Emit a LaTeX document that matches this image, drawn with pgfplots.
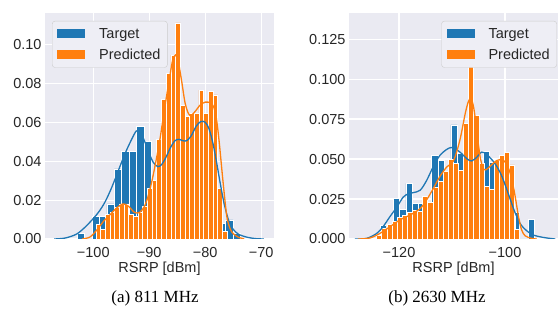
\documentclass[border=0pt]{standalone}
\usepackage{pgfplots}
\pgfplotsset{compat=1.18}
\usepackage{fontspec}
\setmainfont{Liberation Sans}
\newfontfamily\capfont{Liberation Serif}
\definecolor{sbg}{HTML}{EAEAF2}
\definecolor{sblue}{HTML}{1F77B4}
\definecolor{sorange}{HTML}{FF7F0E}
\definecolor{stext}{HTML}{262626}
\definecolor{legbg}{HTML}{EEEEF5}
\definecolor{legedge}{HTML}{CCCCCC}
\newcommand{\fs}{\fontsize{14.5bp}{16bp}\selectfont}
\pgfplotsset{
  sb/.style={
    scale only axis,
    height=226bp,
    anchor=south west,
    axis background/.style={fill=sbg},
    axis line style={draw=none},
    major tick length=0pt,
    grid=major,
    major grid style={white, line width=1.1bp},
    ymin=0,
    tick label style={font=\fs, text=stext},
    xticklabel style={yshift=-5bp},
    label style={font=\fs, text=stext},
    xlabel style={yshift=3bp},
    xlabel={RSRP [dBm]},
    legend cell align=left,
    legend style={font=\fs, text=stext, fill=legbg, draw=legedge, rounded corners=3bp,
      inner xsep=5bp, inner ysep=5bp, row sep=5bp},
  },
  bluebar/.style={ybar interval, fill=sblue, draw=white, line width=0.8bp, forget plot},
  orangebar/.style={ybar interval, fill=sorange, draw=white, line width=0.8bp, forget plot},
  bluekde/.style={sblue, line width=1.3bp, smooth, no markers, forget plot},
  orangekde/.style={sorange, line width=1.3bp, smooth, no markers, forget plot},
  bluelegend/.style={legend image code/.code={\fill[sblue, draw=none, sharp corners] (0bp,-4.6bp) rectangle (28bp,4.6bp); \path[draw=none, fill=none] (40bp,0bp);}},
  orangelegend/.style={legend image code/.code={\fill[sorange, draw=none, sharp corners] (0bp,-4.6bp) rectangle (28bp,4.6bp); \path[draw=none, fill=none] (40bp,0bp);}},
}
\begin{document}
\begin{tikzpicture}
\path[use as bounding box] (0,0) rectangle (559bp,322bp);

% ---------------- (a) 811 MHz ----------------
\begin{axis}[sb, at={(45bp,83bp)}, width=229bp,
  xmin=-108.63, xmax=-67.7, ymax=0.1161,
  xtick={-100,-90,-80,-70}, xticklabels={−100,−90,−80,−70},
  ytick={0,0.02,0.04,0.06,0.08,0.10}, yticklabels={0.00,0.02,0.04,0.06,0.08,0.10},
  legend style={at={(0.0306,0.965)}, anchor=north west}]
\addlegendimage{bluelegend}
\addlegendentry{Target}
\addlegendimage{orangelegend}
\addlegendentry{Predicted}
\addplot[bluebar] coordinates {
(-102.85,0.003) (-101.525,0) (-100.2,0.0115) (-98.875,0.0115) (-97.55,0.018)
(-96.225,0.036) (-94.9,0.045) (-93.575,0.045) (-92.25,0.058) (-90.925,0.050)
(-89.6,0.025) (-88.275,0.040) (-86.95,0.048) (-85.625,0.052) (-84.3,0.047)
(-82.975,0.050) (-81.65,0.058) (-80.325,0.060) (-79.0,0.025) (-77.675,0.0082)
(-76.35,0.0098) (-75.025,0.003) (-73.7,0.003)};
\addplot[orangebar] coordinates {
(-99.5,0.0075) (-98.664,0.005) (-97.828,0.0128) (-96.992,0.0135) (-96.156,0.016)
(-95.32,0.018) (-94.484,0.018) (-93.648,0.0125) (-92.812,0.0118) (-91.976,0.0135)
(-91.14,0.017) (-90.304,0.026) (-89.468,0.030) (-88.632,0.051) (-87.796,0.0717)
(-86.96,0.085) (-86.124,0.0945) (-85.288,0.111) (-84.452,0.0688) (-83.616,0.063)
(-82.78,0.0646) (-81.944,0.0646) (-81.108,0.0765) (-80.272,0.0646) (-79.436,0.0757)
(-78.6,0.074) (-77.764,0.026) (-76.928,0.0038) (-76.092,0.0038)};
\addplot[bluekde] coordinates {
(-107,0) (-105,0.0005) (-103,0.0025) (-101.5,0.006) (-100,0.0105) (-99,0.0140)
(-98,0.0185) (-97,0.0245) (-96,0.0315) (-95,0.039) (-94,0.046) (-93,0.052)
(-92.3,0.0555) (-91.6,0.0550) (-90.8,0.0500) (-90,0.0440) (-89.3,0.0395)
(-88.5,0.0372) (-87.8,0.0382) (-87,0.0420) (-86.2,0.0470) (-85.4,0.0505)
(-84.7,0.0512) (-84,0.0505) (-83.3,0.0505) (-82.5,0.0530) (-81.6,0.0580)
(-80.8,0.0603) (-80,0.0600) (-79.3,0.0565) (-78.6,0.0490) (-78,0.0400)
(-77.3,0.0285) (-76.6,0.0180) (-75.8,0.0095) (-75,0.0050) (-74,0.0024)
(-72.5,0.0009) (-71,0.0002) (-69.5,0)};
\addplot[orangekde] coordinates {
(-102,0) (-100.6,0.001) (-99.4,0.0045) (-98.2,0.009) (-97,0.0125) (-95.8,0.016)
(-94.7,0.0180) (-93.7,0.0168) (-92.7,0.0138) (-91.8,0.0135) (-90.9,0.0165)
(-90.2,0.0220) (-89.5,0.0300) (-88.8,0.0400) (-88.1,0.0510) (-87.2,0.0680)
(-86.3,0.0840) (-85.8,0.0920) (-85.3,0.0945) (-84.8,0.0910) (-84.2,0.0810)
(-83.6,0.0700) (-83.0,0.0645) (-82.5,0.0635) (-81.8,0.0655) (-80.9,0.0688)
(-80,0.0703) (-79.1,0.0700) (-78.5,0.0680) (-78,0.0620) (-77.5,0.0500)
(-77,0.0350) (-76.6,0.0235) (-76.1,0.0110) (-75.5,0.0050) (-74.9,0.0025)
(-74,0.0008) (-73,0)};
\end{axis}

% ---------------- (b) 2630 MHz ----------------
\begin{axis}[sb, at={(349bp,83bp)}, width=209bp,
  xmin=-129.43, xmax=-90.0, ymax=0.1413,
  xtick={-120,-100}, xticklabels={−120,−100},
  ytick={0,0.025,0.05,0.075,0.1,0.125}, yticklabels={0.000,0.025,0.050,0.075,0.100,0.125},
  legend style={at={(0.995,0.965)}, anchor=north east}]
\addlegendimage{bluelegend}
\addlegendentry{Target}
\addlegendimage{orangelegend}
\addlegendentry{Predicted}
\addplot[bluebar] coordinates {
(-123.55,0.00875) (-122.336,0.009) (-121.122,0.0254) (-119.908,0.0183) (-118.694,0.0348)
(-117.48,0.0222) (-116.266,0.0224) (-115.052,0.022) (-113.838,0.052) (-112.624,0.049)
(-111.41,0.040) (-110.196,0.0713) (-108.982,0.0535) (-107.768,0.048) (-106.554,0.045)
(-105.34,0.044) (-104.126,0.0546) (-102.912,0.0477) (-101.698,0.040) (-100.484,0.030)
(-99.27,0.0165) (-98.056,0.0165) (-97.2,0) (-95.628,0.0125) (-94.45,0.0125)};
\addplot[orangebar] coordinates {
(-124.2,0.002) (-123.236,0.0065) (-122.272,0.009) (-121.308,0.011) (-120.344,0.0135)
(-119.38,0.015) (-118.416,0.0165) (-117.452,0.018) (-116.488,0.017) (-115.524,0.0265)
(-114.56,0.023) (-113.596,0.032) (-112.632,0.036) (-111.668,0.042) (-110.704,0.050)
(-109.74,0.047) (-108.776,0.043) (-107.812,0.072) (-106.848,0.108) (-105.884,0.077)
(-104.92,0.047) (-103.956,0.033) (-102.992,0.031) (-102.028,0.049) (-101.064,0.0525)
(-100.1,0.054) (-99.136,0.0463) (-98.172,0.006) (-97.208,0.006)};
\addplot[bluekde] coordinates {
(-128.3,0) (-126.1,0.0004) (-124.2,0.0035) (-123,0.0077) (-121.7,0.014) (-120.4,0.020)
(-119.2,0.0262) (-118.2,0.0283) (-117.3,0.0290) (-116,0.0305) (-114.8,0.0365)
(-113.5,0.0455) (-112.3,0.0522) (-111,0.0560) (-110.1,0.0572) (-109.1,0.0558)
(-108.2,0.0535) (-107.2,0.0502) (-106.3,0.0488) (-105.3,0.0512) (-104.4,0.0543)
(-103.5,0.0530) (-102.2,0.0485) (-101.3,0.0440) (-100.5,0.0385) (-99.4,0.0285)
(-98.1,0.0165) (-96.9,0.0085) (-95,0.0030) (-92.8,0.0010) (-90.5,0)};
\addplot[orangekde] coordinates {
(-127.7,0) (-125.5,0.0006) (-123.6,0.0035) (-121.7,0.0077) (-119.8,0.012)
(-117.9,0.015) (-116,0.019) (-114.8,0.0244) (-113.5,0.0317) (-112.3,0.039)
(-111,0.045) (-109.7,0.049) (-108.5,0.062) (-107.5,0.0785) (-106.9,0.0860)
(-106.4,0.0880) (-105.9,0.0820) (-105.4,0.0700) (-104.7,0.0515) (-104,0.0435)
(-103.3,0.0440) (-102.5,0.0465) (-101.6,0.0490) (-100.6,0.0495) (-99.8,0.0475)
(-99.1,0.0420) (-98.5,0.0340) (-98,0.0250) (-97.5,0.0150) (-96.9,0.0060)
(-96.2,0.0020) (-95,0.0004) (-94,0)};
\end{axis}

\node[font=\capfont\fontsize{17bp}{20bp}\selectfont, anchor=base] at (155bp,20bp) {(a) 811 MHz};
\node[font=\capfont\fontsize{17bp}{20bp}\selectfont, anchor=base] at (437bp,20bp) {(b) 2630 MHz};
\end{tikzpicture}
\end{document}
